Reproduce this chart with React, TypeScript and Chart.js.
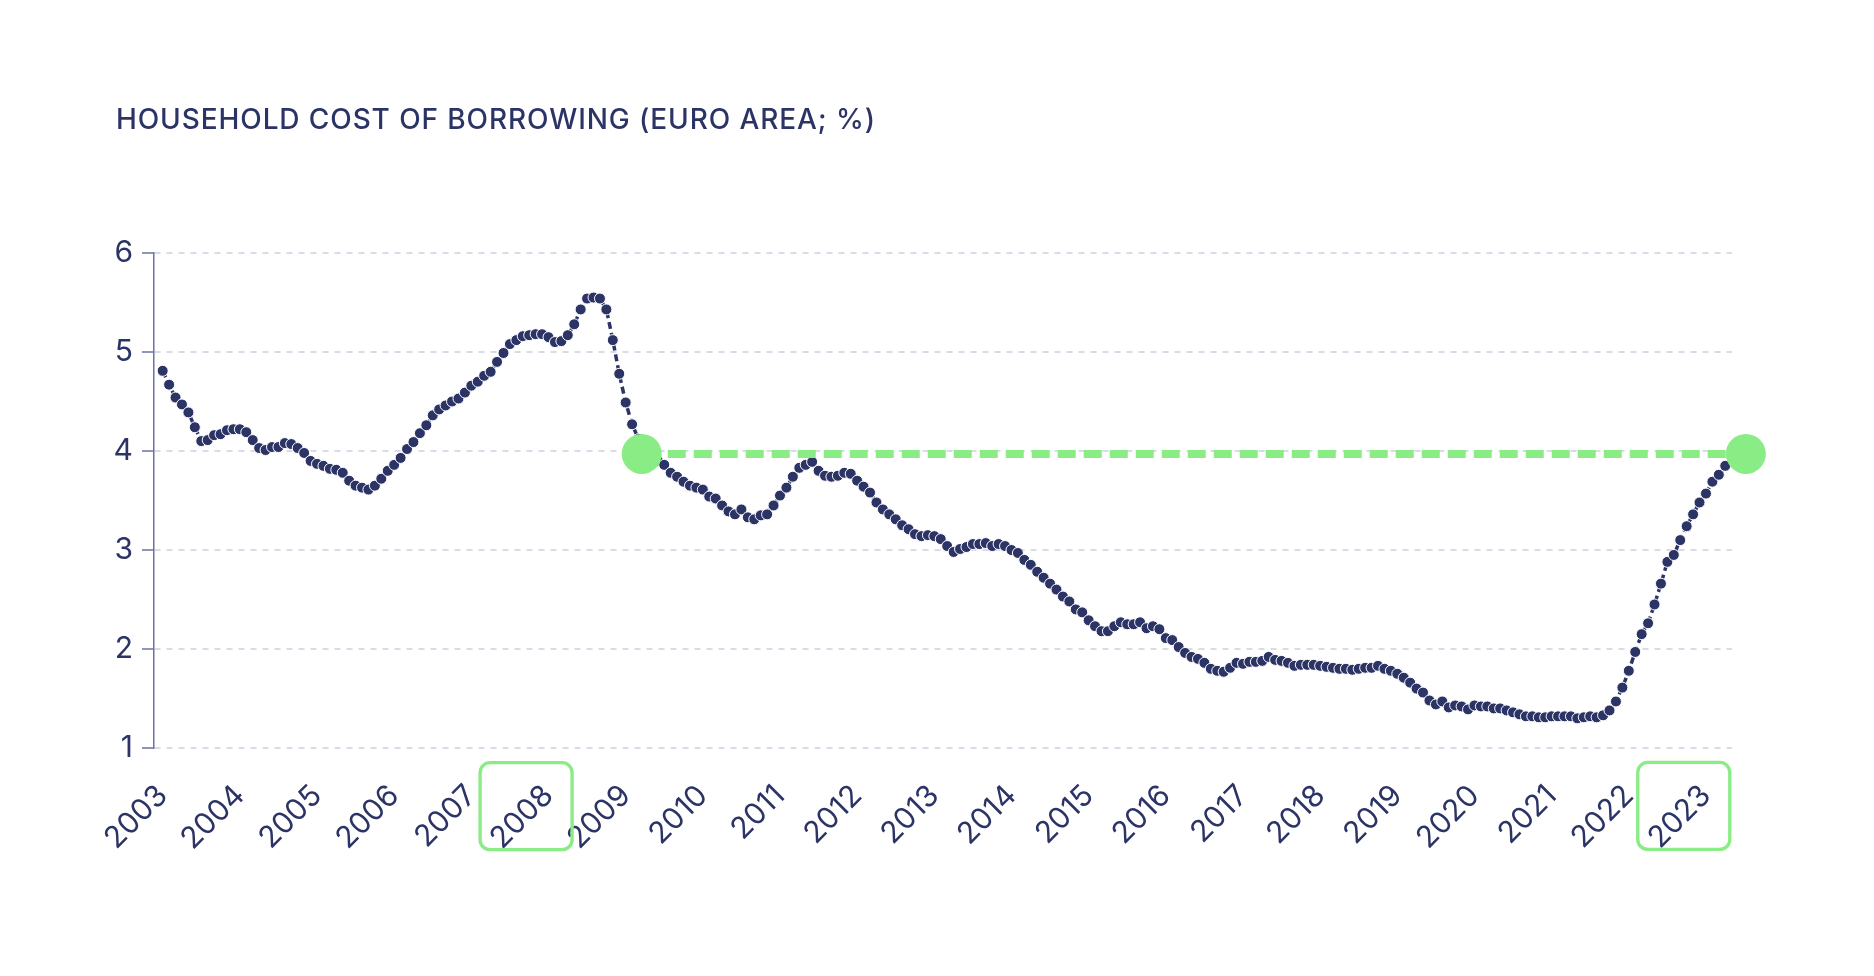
import { useEffect, useRef } from 'react';
import Chart from 'chart.js/auto';

// Year tick labels, one per January
const YEARS = [
  '2003', '2004', '2005', '2006', '2007', '2008', '2009', '2010', '2011', '2012', '2013',
  '2014', '2015', '2016', '2017', '2018', '2019', '2020', '2021', '2022', '2023',
];
const HIGHLIGHT_YEARS = ['2008', '2023'];

// Monthly composite cost of borrowing (%), from January 2003
const RATES = [
  4.81, 4.67, 4.54, 4.47, 4.39, 4.24, 4.10, 4.11, 4.16, 4.17, 4.21, 4.22,
  4.22, 4.19, 4.11, 4.03, 4.01, 4.04, 4.04, 4.08, 4.07, 4.03, 3.98, 3.90,
  3.87, 3.85, 3.82, 3.81, 3.78, 3.70, 3.65, 3.63, 3.61, 3.65, 3.72, 3.80,
  3.86, 3.93, 4.02, 4.09, 4.18, 4.26, 4.36, 4.42, 4.46, 4.50, 4.53, 4.59,
  4.66, 4.70, 4.76, 4.80, 4.90, 4.99, 5.08, 5.12, 5.16, 5.17, 5.18, 5.18,
  5.15, 5.10, 5.11, 5.17, 5.28, 5.43, 5.54, 5.55, 5.54, 5.43, 5.12, 4.78,
  4.49, 4.27, 4.12, 4.02, 3.95, 3.90, 3.86, 3.78, 3.74, 3.69, 3.65, 3.63,
  3.61, 3.54, 3.52, 3.45, 3.39, 3.36, 3.41, 3.33, 3.31, 3.35, 3.36, 3.45,
  3.55, 3.63, 3.74, 3.83, 3.86, 3.89, 3.80, 3.75, 3.74, 3.75, 3.78, 3.77,
  3.70, 3.64, 3.58, 3.48, 3.41, 3.36, 3.31, 3.25, 3.21, 3.16, 3.14, 3.15,
  3.14, 3.11, 3.04, 2.98, 3.01, 3.03, 3.06, 3.06, 3.07, 3.04, 3.06, 3.04,
  3.00, 2.97, 2.90, 2.85, 2.78, 2.72, 2.66, 2.60, 2.53, 2.48, 2.40, 2.37,
  2.29, 2.23, 2.18, 2.18, 2.23, 2.27, 2.25, 2.25, 2.27, 2.21, 2.23, 2.20,
  2.11, 2.09, 2.02, 1.96, 1.92, 1.90, 1.86, 1.80, 1.78, 1.77, 1.81, 1.86,
  1.85, 1.87, 1.87, 1.88, 1.92, 1.89, 1.88, 1.86, 1.83, 1.84, 1.84, 1.84,
  1.83, 1.82, 1.81, 1.80, 1.80, 1.79, 1.80, 1.81, 1.81, 1.83, 1.80, 1.78,
  1.75, 1.71, 1.66, 1.60, 1.56, 1.48, 1.44, 1.47, 1.41, 1.43, 1.42, 1.39,
  1.43, 1.42, 1.42, 1.40, 1.40, 1.38, 1.36, 1.34, 1.32, 1.32, 1.31, 1.31,
  1.32, 1.32, 1.32, 1.32, 1.30, 1.31, 1.32, 1.31, 1.33, 1.38, 1.47, 1.61,
  1.78, 1.97, 2.15, 2.26, 2.45, 2.66, 2.88, 2.95, 3.10, 3.24, 3.36, 3.48,
  3.57, 3.69, 3.76, 3.85,
];

// The two points joined by the green benchmark line (month index, rate)
const MARKER_MONTHS = [74.5, 246.2];
const MARKER_RATE = 3.97;

const NAVY = '#2c3466';
const AXIS = '#6d71a3';
const GRID = '#dadbe8';
const GREEN = '#89ec84';
const FONT = 'Inter, "Noto Sans", sans-serif';

const LABEL_PAD = 22;
const LABEL_SIZE = 30;

// rounded green frames around the highlighted year labels
const yearBoxes = {
  id: 'yearBoxes',
  afterDraw(chart: any) {
    const x = chart.scales.x;
    const ctx = chart.ctx as CanvasRenderingContext2D;
    ctx.save();
    ctx.font = `${LABEL_SIZE}px ${FONT}`;
    ctx.strokeStyle = GREEN;
    ctx.lineWidth = 3.3;
    HIGHLIGHT_YEARS.forEach((year) => {
      const i = YEARS.indexOf(year);
      const px = x.getPixelForValue(i * 12);
      const w = ctx.measureText(year).width;
      const lh = LABEL_SIZE * 1.2;
      const cx = px - 0.3536 * w + 4;
      const cy = x.top + LABEL_PAD + 0.3536 * (w + lh) - 3;
      ctx.beginPath();
      ctx.roundRect(cx - 46, cy - 43.5, 92, 87, 10);
      ctx.stroke();
    });
    ctx.restore();
  },
};

export default function App() {
  const chartRef = useRef<HTMLCanvasElement>(null);

  useEffect(() => {
    if (!chartRef.current) return;
    const ctx = chartRef.current.getContext('2d');
    if (!ctx) return;

    const chart = new Chart(ctx, {
      type: 'line',
      data: {
        datasets: [
          {
            data: MARKER_MONTHS.map((m) => ({ x: m, y: MARKER_RATE })),
            borderColor: GREEN,
            borderWidth: 8,
            borderDash: [18, 8],
            borderCapStyle: 'butt',
            pointRadius: 20,
            pointBackgroundColor: GREEN,
            pointBorderWidth: 0,
            clip: false as any,
            order: 0,
          },
          {
            data: RATES.map((v, i) => ({ x: i, y: v })),
            borderColor: NAVY,
            borderWidth: 3.5,
            borderDash: [7, 4],
            pointRadius: 5.5,
            pointBackgroundColor: NAVY,
            pointBorderColor: '#ffffff',
            pointBorderWidth: 1,
            tension: 0,
            order: 1,
          },
        ],
      },
      options: {
        animation: false,
        responsive: true,
        maintainAspectRatio: false,
        layout: { padding: { left: 74, right: 142, top: 253, bottom: 108 } },
        plugins: {
          legend: { display: false },
          tooltip: { enabled: false },
        },
        scales: {
          x: {
            type: 'linear',
            min: -1.35,
            max: 244.05,
            afterFit: (scale: any) => {
              scale.height = 120;
            },
            afterBuildTicks: (scale: any) => {
              scale.ticks = YEARS.map((_, i) => ({ value: i * 12 }));
            },
            grid: { display: false },
            border: { display: false },
            ticks: {
              autoSkip: false,
              minRotation: 45,
              maxRotation: 45,
              padding: LABEL_PAD,
              color: NAVY,
              font: { family: FONT, size: LABEL_SIZE },
              callback: (value: any) => YEARS[Math.round(Number(value) / 12)] ?? '',
            },
          },
          y: {
            min: 1,
            max: 6,
            afterFit: (scale: any) => {
              scale.width = 80;
            },
            grid: {
              color: GRID,
              lineWidth: 2,
              tickLength: 12,
              tickColor: AXIS,
              tickWidth: 1.5,
              tickBorderDash: [],
            },
            border: { display: true, color: AXIS, width: 1.5, dash: [6, 6] },
            ticks: {
              stepSize: 1,
              padding: 9,
              color: NAVY,
              font: { family: FONT, size: 30 },
            },
          },
        },
      },
      plugins: [yearBoxes],
    });

    return () => {
      chart.destroy();
    };
  }, []);

  return (
    <div style={{ position: 'absolute', left: 0, top: 0, width: 1874, height: 976, background: '#fff' }}>
      <div
        style={{
          position: 'absolute',
          left: 116,
          top: 105,
          fontFamily: FONT,
          fontWeight: 500,
          fontSize: 28,
          lineHeight: '28px',
          letterSpacing: '0.9px',
          color: NAVY,
          whiteSpace: 'nowrap',
        }}
      >
        HOUSEHOLD COST OF BORROWING (EURO AREA; %)
      </div>
      <canvas ref={chartRef} />
    </div>
  );
}
